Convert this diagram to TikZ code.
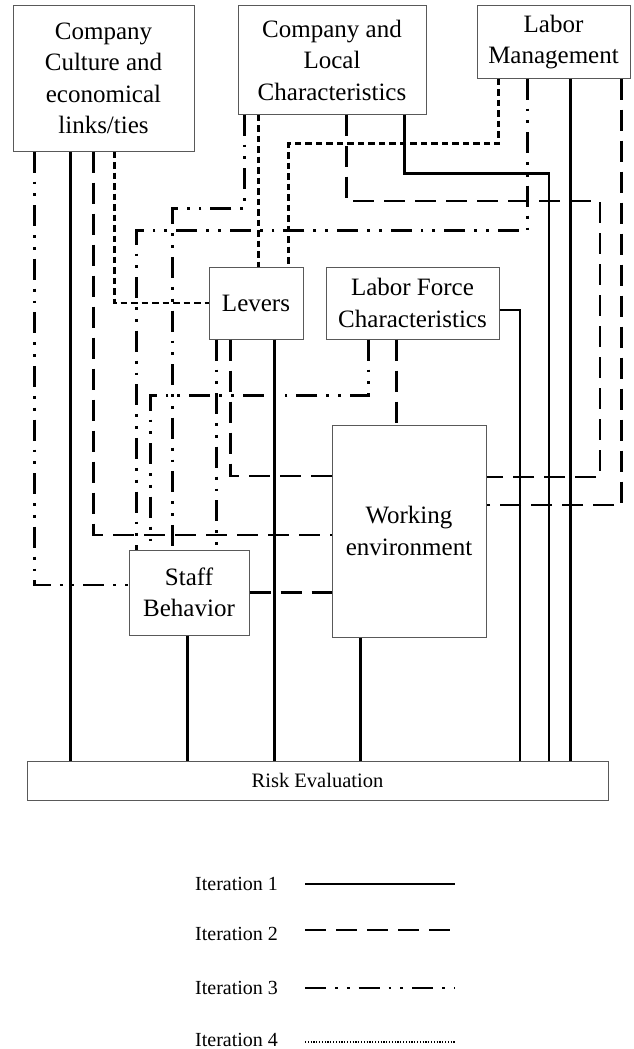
\documentclass[tikz,border=0pt]{standalone}
\usepackage{fontspec}
\setmainfont{Liberation Serif}
\begin{document}
\begin{tikzpicture}[x=1pt,y=-1pt,
  box/.style={draw=black!65, line width=1pt, inner sep=0pt, align=center, font=\fontsize{25}{31.5}\selectfont},
  it1/.style={line width=2.5pt},
  it2/.style={line width=2.5pt, dash pattern=on 21pt off 10pt},
  it3/.style={line width=2.5pt, dash pattern=on 21pt off 9pt on 2.8pt off 9pt on 2.8pt off 9pt},
  it4/.style={line width=2.5pt, dash pattern=on 6.5pt off 4pt},
  it4leg/.style={line width=2.2pt, dash pattern=on 1.2pt off 1.6pt},
  leg/.style={font=\fontsize{20}{24}\selectfont, anchor=west, inner sep=0pt}]
\useasboundingbox (0,0) rectangle (633,1049);
% boxes
\node[box, minimum width=181pt, minimum height=145pt] (cc) at (103.5,78.5) {Company\\Culture and\\economical\\links/ties};
\node[box, minimum width=188pt, minimum height=108pt] (cl) at (332,60) {Company and\\Local\\Characteristics};
\node[box, minimum width=153pt, minimum height=72pt] (lm) at (553.5,42) {Labor\\Management};
\node[box, minimum width=94pt, minimum height=72pt] (lev) at (256,303) {Levers};
\node[box, minimum width=173pt, minimum height=72pt] (lfc) at (412.5,303) {Labor Force\\Characteristics};
\node[box, minimum width=154pt, minimum height=212pt] (we) at (409,531) {Working\\environment};
\node[box, minimum width=120pt, minimum height=85pt] (sb) at (189,592.5) {Staff\\Behavior};
\node[box, minimum width=581pt, minimum height=39pt, font=\fontsize{20.5}{25}\selectfont] (re) at (317.5,780.5) {Risk Evaluation};
% attachment points
\coordinate (c1) at ([xshift=22pt]cc.south west);
\coordinate (c2) at ([xshift=58pt]cc.south west);
\coordinate (c3) at ([xshift=81pt]cc.south west);
\coordinate (c4) at ([xshift=102pt]cc.south west);
\coordinate (l1) at ([xshift=7pt]cl.south west);
\coordinate (l2) at ([xshift=21pt]cl.south west);
\coordinate (l3) at ([xshift=109pt]cl.south west);
\coordinate (l4) at ([xshift=167pt]cl.south west);
\coordinate (m1) at ([xshift=22pt]lm.south west);
\coordinate (m2) at ([xshift=51pt]lm.south west);
\coordinate (m3) at ([xshift=94pt]lm.south west);
\coordinate (m4) at ([xshift=145pt]lm.south west);
\coordinate (v1) at ([xshift=8pt]lev.south west);
\coordinate (v2) at ([xshift=22pt]lev.south west);
\coordinate (v3) at ([xshift=66pt]lev.south west);
\coordinate (vt1) at ([xshift=50pt]lev.north west);
\coordinate (vt2) at ([xshift=80pt]lev.north west);
\coordinate (f1) at ([xshift=43pt]lfc.south west);
\coordinate (f2) at ([xshift=71pt]lfc.south west);
\coordinate (fr) at ([yshift=-7pt]lfc.east);
\coordinate (wl1) at ([yshift=55pt]we.west);
\coordinate (wl2) at ([yshift=-4pt]we.west);
\coordinate (wr1) at ([yshift=54pt]we.east);
\coordinate (wr2) at ([yshift=26pt]we.east);
\coordinate (wb) at ([xshift=29pt]we.south west);
\coordinate (st1) at ([xshift=8pt]sb.north west);
\coordinate (st2) at ([xshift=22pt]sb.north west);
\coordinate (st3) at ([xshift=44pt]sb.north west);
\coordinate (st4) at ([xshift=88pt]sb.north west);
\coordinate (sl) at ([yshift=7.5pt]sb.west);
\coordinate (sbb) at ([xshift=59pt]sb.south west);
% connectors: iteration 1 (solid)
\draw[it1] (c2) -- (c2 |- re.north);
\draw[it1] (l4) -- ++(0,59) -| (re.north -| 549,0);
\draw[it1] (m3) -- (m3 |- re.north);
\draw[it1] (v3) -- (v3 |- re.north);
\draw[it1] (fr) -| (re.north -| 520,0);
\draw[it1] (sbb) -- (sbb |- re.north);
\draw[it1] (wb) -- (wb |- re.north);
% iteration 2 (long dash)
\draw[it2] (c3) |- (wl2);
\draw[it2] (l3) |- (600,201) |- (wr1);
\draw[it2] (m4) |- (wr2);
\draw[it2] (v2) |- (wl1);
\draw[it2] (f2) -- (f2 |- we.north);
\draw[it2] (sb.east) -- (we.west |- sb.east);
% iteration 3 (dash dot dot)
\draw[it3] (c1) |- (sl);
\draw[it3] (l1) -- ++(0,94) -| (st3);
\draw[it3] (m2) -- ++(0,152) -| (st1);
\draw[it3] (v1) -- (st4);
\draw[it3] (f1) -- ++(0,56) -| (st2);
% iteration 4 (short dash)
\draw[it4] (c4) |- (lev.west);
\draw[it4] (l2) -- (vt1);
\draw[it4] (m1) -- ++(0,65) -| (vt2);
% legend
\node[leg] (t1) at (195,884) {Iteration 1};
\node[leg] (t2) at (195,934) {Iteration 2};
\node[leg] (t3) at (195,988) {Iteration 3};
\node[leg] (t4) at (195,1040) {Iteration 4};
\coordinate (k1a) at (305,884); \coordinate (k1b) at (455,884);
\coordinate (k2a) at (305,930); \coordinate (k2b) at (455,930);
\coordinate (k3a) at (305,988); \coordinate (k3b) at (455,988);
\coordinate (k4a) at (305,1042); \coordinate (k4b) at (455,1042);
\draw[it1] (k1a) -- (k1b);
\draw[it2] (k2a) -- (k2b);
\draw[it3] (k3a) -- (k3b);
\draw[it4leg] (k4a) -- (k4b);
\end{tikzpicture}
\end{document}
